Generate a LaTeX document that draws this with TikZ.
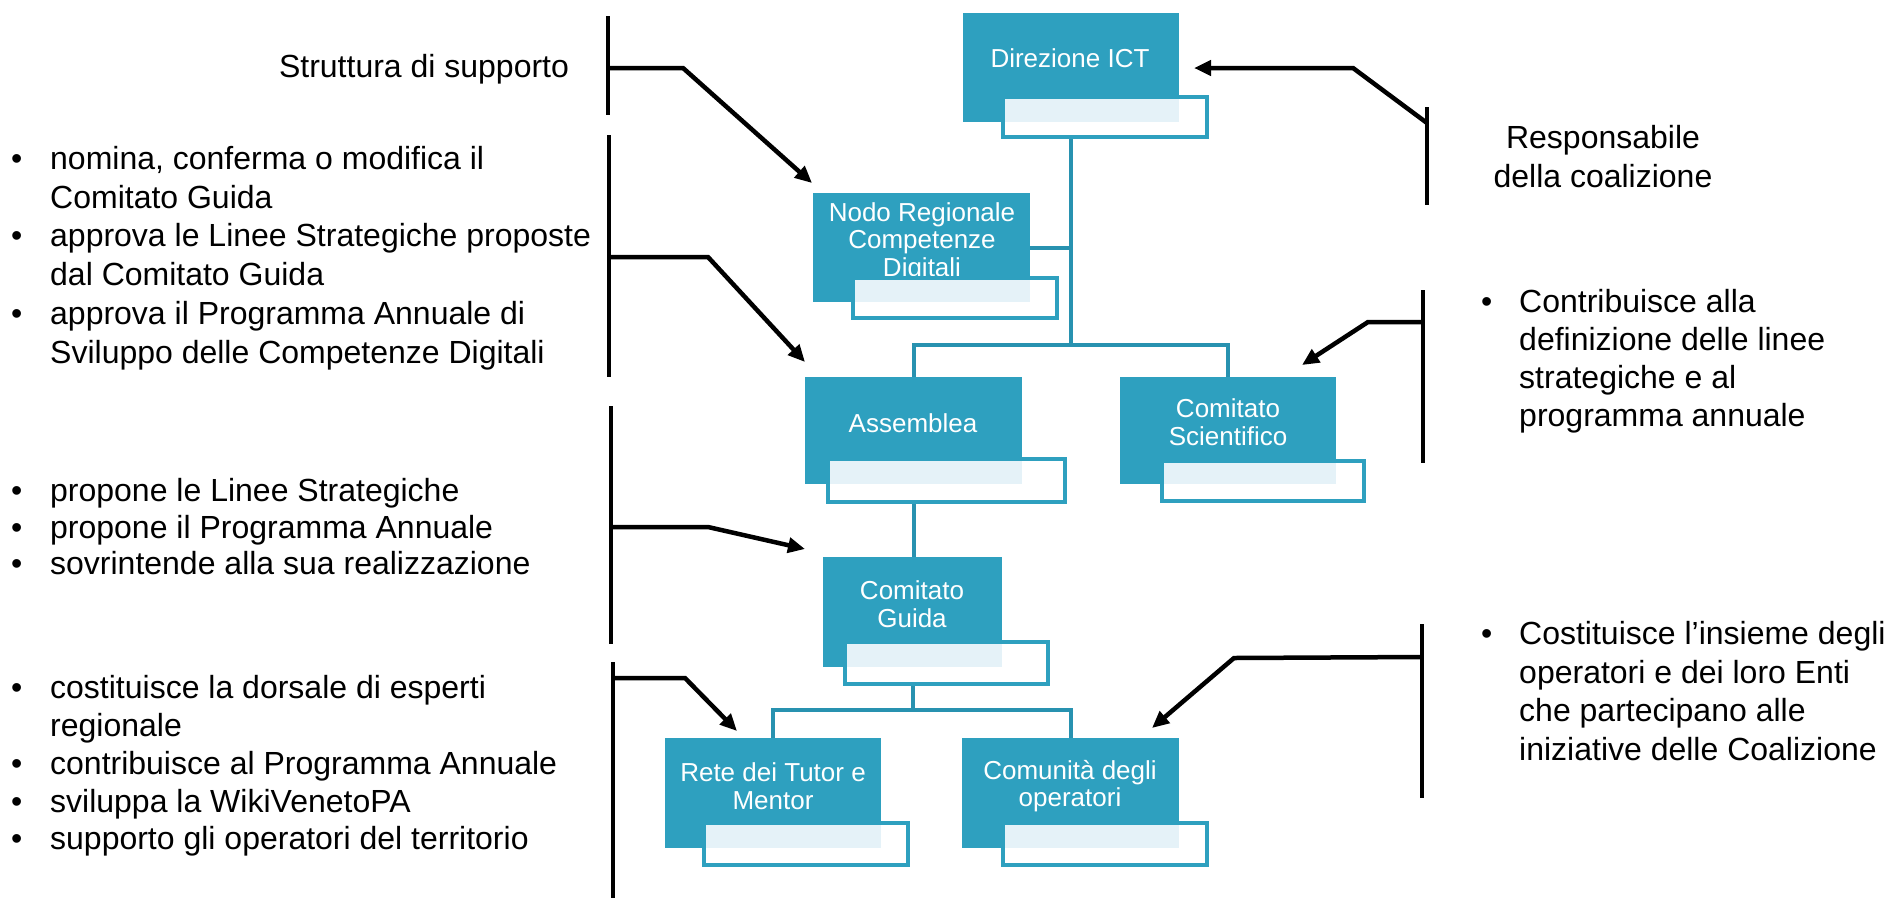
\documentclass[tikz,border=0pt]{standalone}
\usepackage{fontspec}
\setmainfont{Liberation Sans}
\usetikzlibrary{arrows.meta,backgrounds}
\definecolor{tealbox}{RGB}{46,160,191}
\definecolor{tealline}{RGB}{40,146,176}
\definecolor{lightb}{RGB}{229,242,248}
\tikzset{
 mainbox/.style={fill=tealbox, draw=none, anchor=north west, inner sep=0pt, outer sep=0pt},
 subbox/.style={fill=white, draw=none, anchor=north west, inner sep=0pt, outer sep=0pt},
 subedge/.style={draw=tealbox, line width=4pt},
 boxtext/.style={text=white, font=\fontsize{26}{27.5}\selectfont, align=center, inner sep=0pt},
 conn/.style={draw=tealline, line width=4pt},
 brk/.style={draw=black, line width=4.5pt},
 arr/.style={draw=black, line width=4.5pt, -{Triangle[length=17pt,width=15pt]}},
 sidelist/.style={inner sep=0pt, anchor=north west},
 sidetext/.style={inner sep=0pt, font=\fontsize{32}{39}\selectfont},
}
\newcommand\mysubpanel[2]{%
 \fill[lightb] ([xshift=2pt,yshift=-2pt]#1.north west) rectangle (#2.south east);
 \draw[subedge] (#1.north west) rectangle (#1.south east);}
\begin{document}
\begin{tikzpicture}[x=1pt,y=-1pt]
\useasboundingbox (0,0) rectangle (1887,898);

% ---------- boxes ----------
\node[mainbox, minimum width=216pt, minimum height=109pt] (dir) at (963,13) {};
\node[boxtext] (dirT) at (1070,58) {Direzione ICT};
\node[subbox, minimum width=204pt, minimum height=40pt] (dirS) at (1003,97) {};
\mysubpanel{dirS}{dir}

\node[mainbox, minimum width=217pt, minimum height=109pt] (nodo) at (813,193) {};
\node[boxtext] (nodoT) at (922,242) {Nodo Regionale\\Competenze\\Digitali};
\node[subbox, minimum width=204pt, minimum height=40pt] (nodoS) at (853,278) {};
\mysubpanel{nodoS}{nodo}

\node[mainbox, minimum width=217pt, minimum height=107pt] (ass) at (805,377) {};
\node[boxtext] (assT) at (913,423) {Assemblea};
\node[subbox, minimum width=237pt, minimum height=43pt] (assS) at (828,459) {};
\mysubpanel{assS}{ass}

\node[mainbox, minimum width=216pt, minimum height=107pt] (cs) at (1120,377) {};
\node[boxtext] (csT) at (1228,422) {Comitato\\Scientifico};
\node[subbox, minimum width=202pt, minimum height=40pt] (csS) at (1162,461) {};
\mysubpanel{csS}{cs}

\node[mainbox, minimum width=179pt, minimum height=110pt] (cg) at (823,557) {};
\node[boxtext] (cgT) at (912,604) {Comitato\\Guida};
\node[subbox, minimum width=203pt, minimum height=42pt] (cgS) at (845,642) {};
\mysubpanel{cgS}{cg}

\node[mainbox, minimum width=216pt, minimum height=110pt] (rete) at (665,738) {};
\node[boxtext] (reteT) at (773,786) {Rete dei Tutor e\\Mentor};
\node[subbox, minimum width=204pt, minimum height=42pt] (reteS) at (704,823) {};
\mysubpanel{reteS}{rete}

\node[mainbox, minimum width=217pt, minimum height=110pt] (com) at (962,738) {};
\node[boxtext] (comT) at (1070,786) {Comunità degli\\operatori};
\node[subbox, minimum width=204pt, minimum height=42pt] (comS) at (1003,823) {};
\mysubpanel{comS}{com}

% ---------- teal connectors ----------
\coordinate (barA) at (1071,345);
\coordinate (barB) at (912,710);
\begin{scope}[on background layer]
\draw[conn] (dir.south) -- (dir.south |- barA);
\draw[conn] (nodo.east) -- (nodo.east -| barA);
\draw[conn] (ass.north) -- (ass.north |- barA) -- (cs.north |- barA) -- (cs.north);
\draw[conn] (ass.south) -- (ass.south |- cg.north);
\draw[conn] (cg.south) -- (cg.south |- barB);
\draw[conn] (rete.north) -- (rete.north |- barB) -- (com.north |- barB) -- (com.north);
\end{scope}

% ---------- left brackets and arrows ----------
\coordinate (b1t) at (608,16);   \coordinate (b1b) at (608,115);
\coordinate (b1j) at (608,68);   \coordinate (b1k) at (683,68);   \coordinate (b1e) at (812,183);
\draw[brk] (b1t) -- (b1b);
\draw[arr] (b1j) -- (b1k) -- (b1e);

\coordinate (b2t) at (609,135);  \coordinate (b2b) at (609,377);
\coordinate (b2j) at (609,257);  \coordinate (b2k) at (708,257);  \coordinate (b2e) at (805,362);
\draw[brk] (b2t) -- (b2b);
\draw[arr] (b2j) -- (b2k) -- (b2e);

\coordinate (b3t) at (611,406);  \coordinate (b3b) at (611,644);
\coordinate (b3j) at (611,527);  \coordinate (b3k) at (708,527);  \coordinate (b3e) at (805,549);
\draw[brk] (b3t) -- (b3b);
\draw[arr] (b3j) -- (b3k) -- (b3e);

\coordinate (b4t) at (613,662);  \coordinate (b4b) at (613,898);
\coordinate (b4j) at (613,678);  \coordinate (b4k) at (685,678);  \coordinate (b4e) at (737,731);
\draw[brk] (b4t) -- (b4b);
\draw[arr] (b4j) -- (b4k) -- (b4e);

% ---------- right brackets and arrows ----------
\coordinate (r1t) at (1427,107); \coordinate (r1b) at (1427,205);
\coordinate (r1j) at (1427,123); \coordinate (r1k) at (1353,68);  \coordinate (r1e) at (1194,68);
\draw[brk] (r1t) -- (r1b);
\draw[arr] (r1j) -- (r1k) -- (r1e);

\coordinate (r2t) at (1423,290); \coordinate (r2b) at (1423,463);
\coordinate (r2j) at (1423,322); \coordinate (r2k) at (1368,322); \coordinate (r2e) at (1302,365);
\draw[brk] (r2t) -- (r2b);
\draw[arr] (r2j) -- (r2k) -- (r2e);

\coordinate (r3t) at (1422,624); \coordinate (r3b) at (1422,798);
\coordinate (r3j) at (1422,657); \coordinate (r3k) at (1234,658); \coordinate (r3e) at (1152,728);
\draw[brk] (r3t) -- (r3b);
\draw[arr] (r3j) -- (r3k) -- (r3e);

% ---------- side texts ----------
\node[sidetext] (supp) at (424,69) {Struttura di supporto};
\node[sidetext, align=center] (resp) at (1603,157) {Responsabile\\della coalizione};

\node[sidelist, font=\fontsize{32}{38.8}\selectfont] (l1) at (11,142) {%
\begin{tabular}{@{}p{39pt}@{}l@{}}
•&nomina, conferma o modifica il\\
&Comitato Guida\\
•&approva le Linee Strategiche proposte\\
&dal Comitato Guida\\
•&approva il Programma Annuale di\\
&Sviluppo delle Competenze Digitali
\end{tabular}};

\node[sidelist, font=\fontsize{32}{36.5}\selectfont] (l2) at (11,476) {%
\begin{tabular}{@{}p{39pt}@{}l@{}}
•&propone le Linee Strategiche\\
•&propone il Programma Annuale\\
•&sovrintende alla sua realizzazione
\end{tabular}};

\node[sidelist, font=\fontsize{32}{37.8}\selectfont] (l3) at (11,672) {%
\begin{tabular}{@{}p{39pt}@{}l@{}}
•&costituisce la dorsale di esperti\\
&regionale\\
•&contribuisce al Programma Annuale\\
•&sviluppa la WikiVenetoPA\\
•&supporto gli operatori del territorio
\end{tabular}};

\node[sidelist, font=\fontsize{32}{38.3}\selectfont] (r2l) at (1481,285) {%
\begin{tabular}{@{}p{38pt}@{}l@{}}
•&Contribuisce alla\\
&definizione delle linee\\
&strategiche e al\\
&programma annuale
\end{tabular}};

\node[sidelist, font=\fontsize{32}{38.7}\selectfont] (r3l) at (1481,617) {%
\begin{tabular}{@{}p{38pt}@{}l@{}}
•&Costituisce l’insieme degli\\
&operatori e dei loro Enti\\
&che partecipano alle\\
&iniziative delle Coalizione
\end{tabular}};
\end{tikzpicture}
\end{document}
